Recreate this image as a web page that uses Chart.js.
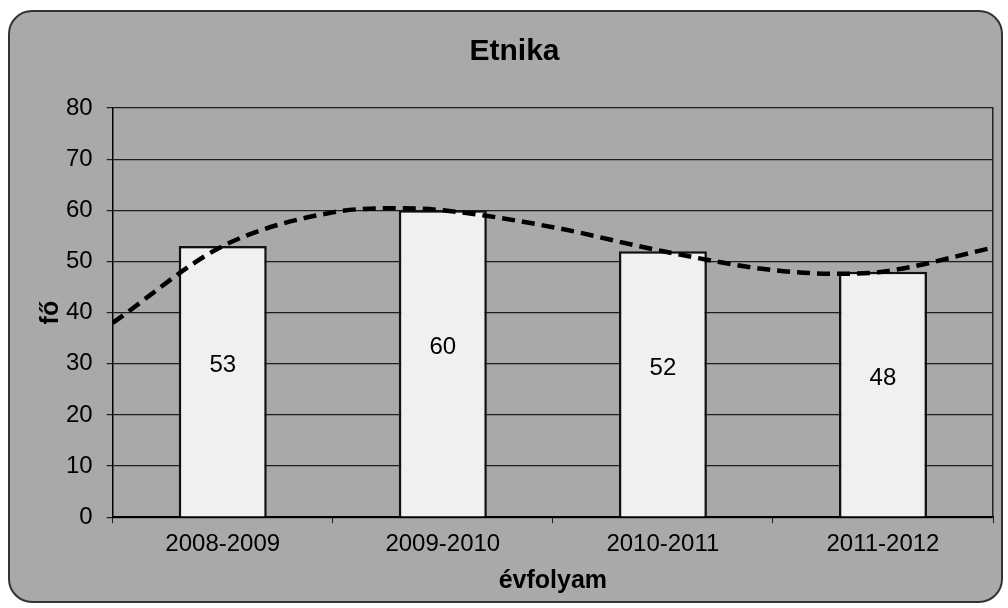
<!DOCTYPE html>
<html>
<head>
<meta charset="utf-8">
<title>Etnika</title>
<script src="https://cdn.jsdelivr.net/npm/chart.js@4.4.1/dist/chart.umd.min.js"></script>
<style>
  html, body { margin: 0; padding: 0; background: #fff; }
  #frame {
    position: absolute; left: 8px; top: 10px;
    width: 995px; height: 593px; box-sizing: border-box;
    border: 2px solid #333; border-radius: 24px;
    background: #a9a9a9;
  }
  #chart { position: absolute; left: 36px; top: 12px; }
</style>
</head>
<body>
<div id="frame"></div>
<canvas id="chart" width="972" height="590"></canvas>
<script>
// data
var years = ['2008-2009', '2009-2010', '2010-2011', '2011-2012'];
var students = [53, 60, 52, 48];
// dashed trend line (category index, value)
var trendPos = [-0.5, 0, 0.5, 0.78, 1, 1.5, 2, 2.5, 2.79, 3, 3.5];
var trendVal = [38, 53, 59.6, 60.4, 60, 56.7, 52, 48.3, 47.6, 48, 52.7];
var yMax = 80;
var yStep = 10;

var font = "'Liberation Sans', Arial, sans-serif";

// value labels inside the bars
var barLabels = {
  id: 'barLabels',
  afterDatasetsDraw: function (chart) {
    var ctx = chart.ctx;
    var meta = chart.getDatasetMeta(0);
    ctx.save();
    ctx.font = '24px ' + font;
    ctx.fillStyle = '#000';
    ctx.textAlign = 'center';
    ctx.textBaseline = 'middle';
    meta.data.forEach(function (bar, i) {
      ctx.fillText(students[i], bar.x, (bar.y + bar.base) / 2 - 16);
    });
    ctx.restore();
  }
};

var ctx = document.getElementById('chart').getContext('2d');
var chart = new Chart(ctx, {
  type: 'bar',
  data: {
    labels: years,
    datasets: [{
      label: 'fő',
      data: students,
      backgroundColor: '#f0f0f0',
      borderColor: '#111',
      borderWidth: 2.5,
      barPercentage: 0.4,
      categoryPercentage: 1.0,
      grouped: false,
      order: 1
    }, {
      type: 'line',
      label: 'trend',
      data: trendPos.map(function (p, i) { return { x: p, y: trendVal[i] }; }),
      xAxisID: 'xt',
      yAxisID: 'y',
      borderColor: '#000',
      borderWidth: 4.5,
      borderDash: [13, 7],
      pointRadius: 0,
      fill: false,
      cubicInterpolationMode: 'monotone',
      order: 0
    }]
  },
  options: {
    responsive: false,
    animation: false,
    devicePixelRatio: 1,
    layout: { padding: { top: 0, right: 15, bottom: 6, left: 0 } },
    plugins: {
      legend: { display: false },
      tooltip: { enabled: false },
      title: {
        display: true,
        text: 'Etnika',
        color: '#000',
        font: { family: font, size: 30, weight: 'bold' },
        padding: { top: 22, bottom: 38 }
      }
    },
    scales: {
      x: {
        grid: { offset: true, drawOnChartArea: false, tickLength: 6, color: '#222' },
        border: { color: '#000', width: 2 },
        ticks: { color: '#000', padding: 7, font: { family: font, size: 24 } },
        title: {
          display: true, text: 'évfolyam', color: '#000',
          font: { family: font, size: 25, weight: 'bold' },
          padding: { top: 0, bottom: 0 }
        }
      },
      xt: { type: 'linear', display: false, offset: false, min: -0.5, max: 3.5 },
      y: {
        min: 0,
        max: yMax,
        ticks: { stepSize: yStep, color: '#000', padding: 14, font: { family: font, size: 24 } },
        grid: { color: '#1e1e1e', lineWidth: 1.2, tickLength: 6 },
        border: { color: '#000', width: 1.5 },
        title: {
          display: true, text: 'fő', color: '#000',
          font: { family: font, size: 25, weight: 'bold' },
          padding: { top: 0, bottom: -14 }
        }
      },
      y2: {
        position: 'right',
        min: 0,
        max: yMax,
        ticks: { display: false },
        grid: { display: false, drawTicks: false },
        border: { display: true, color: '#222', width: 1.5 }
      }
    }
  },
  plugins: [barLabels]
});
</script>
</body>
</html>
